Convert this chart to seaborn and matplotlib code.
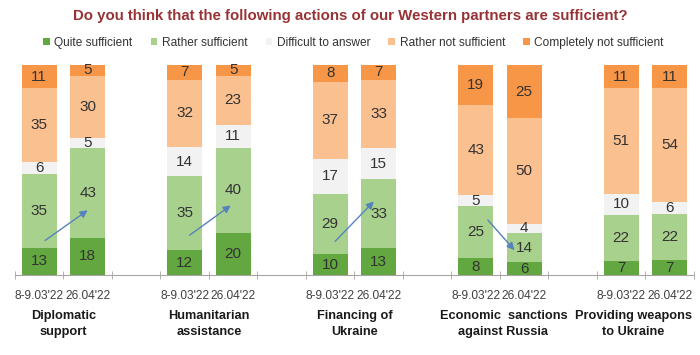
import numpy as np
import pandas as pd
import seaborn as sns
import matplotlib.pyplot as plt
from matplotlib.patches import Patch

# survey data (percent)
groups = ['Diplomatic\nsupport', 'Humanitarian\nassistance', 'Financing of\nUkraine',
          'Economic  sanctions\nagainst Russia', 'Providing weapons\nto Ukraine']
waves = ["8-9.03'22", "26.04'22"]
answers = ['Quite sufficient', 'Rather sufficient', 'Difficult to answer',
           'Rather not sufficient', 'Completely not sufficient']

quite = [13, 18, 12, 20, 10, 13, 8, 6, 7, 7]
rather = [35, 43, 35, 40, 29, 33, 25, 14, 22, 22]
difficult = [6, 5, 14, 11, 17, 15, 5, 4, 10, 6]
rather_not = [35, 30, 32, 23, 37, 33, 43, 50, 51, 54]
completely = [11, 5, 7, 5, 8, 7, 19, 25, 11, 11]

colors = ['#62a73f', '#a9d18e', '#f2f2f2', '#fac090', '#f79646']

# slots: two bars per group and an empty slot between groups
slots = []
for g in range(len(groups)):
    for w in range(len(waves)):
        slots.append(f'{g}_{w}')
    if g < len(groups) - 1:
        slots.append(f'gap{g}')

vals = np.array([quite, rather, difficult, rather_not, completely], dtype=float)
shares = vals / vals.sum(axis=0) * 100
cum = shares.cumsum(axis=0)

df = pd.DataFrame({'slot': [f'{g}_{w}' for g in range(len(groups)) for w in range(len(waves))]})

plt.rcParams['font.family'] = ['Liberation Sans', 'DejaVu Sans']
fig = plt.figure(figsize=(7, 3.55), dpi=100)
ax = fig.add_axes([0.0214, 0.225, 0.970, 0.5915])

# stacked bars: draw cumulative totals from the top layer down
for k in range(len(answers) - 1, -1, -1):
    df['top'] = cum[k]
    sns.barplot(data=df, x='slot', y='top', order=slots, color=colors[k],
                saturation=1, width=0.72, ax=ax, errorbar=None, zorder=2)

# value labels
pos = {s: i for i, s in enumerate(slots)}
for j, s in enumerate(df['slot']):
    for k in range(len(answers)):
        mid = cum[k, j] - shares[k, j] / 2
        ax.text(pos[s], mid, f'{int(vals[k, j])}', ha='center', va='center',
                fontsize=11, color='#333333', zorder=4)

# arrows between the two waves (share of "rather sufficient" segment where they start/end)
arrow_frac = [(0.1, 0.3), (0.2, 0.33), (0.21, 0.67), (0.73, 0.42)]
arrow_dx = [(0.12, 0.0), (0.1, -0.05), (0.1, -0.1), (0.25, -0.2)]
for g in range(4):
    a, b = 2 * g, 2 * g + 1
    y0 = quite[a] + rather[a] * arrow_frac[g][0]
    y1 = quite[b] + rather[b] * arrow_frac[g][1]
    x0 = pos[f'{g}_0'] + arrow_dx[g][0]
    x1 = pos[f'{g}_1'] + arrow_dx[g][1]
    ax.annotate('', xy=(x1, y1), xytext=(x0, y0),
                arrowprops=dict(arrowstyle='-|>', color='#5683bb', lw=1.0,
                                mutation_scale=11, shrinkA=0, shrinkB=0), zorder=5)

ax.set_xlim(-0.5, len(slots) - 0.5)
ax.set_ylim(0, 100)
ax.set_xlabel('')
ax.set_ylabel('')
ax.set_yticks([])
sns.despine(ax=ax, left=True)
ax.spines['bottom'].set_color('#a6a6a6')
ax.set_xticks([pos[s] for s in df['slot']])
ax.set_xticklabels(waves * len(groups), fontsize=8.6, color='#404040')
ax.tick_params(axis='x', length=0, pad=11)
ax.set_xticks(np.arange(-0.5, len(slots)), minor=True)
ax.tick_params(axis='x', which='minor', length=6, direction='inout', color='#a6a6a6')

label_dx = [0, 0, 0, 0.07, -0.25]
for g, name in enumerate(groups):
    xc = (pos[f'{g}_0'] + pos[f'{g}_1']) / 2 + label_dx[g]
    ax.text(xc, -16.5, name, ha='center', va='top', fontsize=9.2, fontweight='bold',
            color='#1a1a1a', linespacing=1.5)

fig.text(0.5, 0.955, 'Do you think that the following actions of our Western partners are sufficient?',
         ha='center', va='center', fontsize=10.8, fontweight='bold', color='#983235')

handles = [Patch(facecolor=c, edgecolor='none') for c in colors]
fig.legend(handles, answers, loc='center', bbox_to_anchor=(0.505, 0.88), ncol=5,
           frameon=False, fontsize=8.6, handlelength=0.55, handleheight=0.55,
           handletextpad=0.4, columnspacing=1.5, labelcolor='#333333')

fig.savefig('out.png', dpi=100)
